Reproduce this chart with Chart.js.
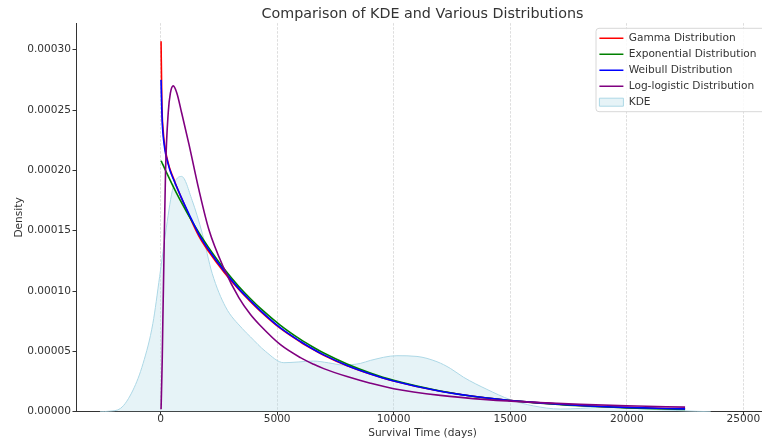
<!DOCTYPE html>
<html>
<head>
<meta charset="utf-8">
<script src="https://cdn.jsdelivr.net/npm/chart.js"></script>
<style>
html, body { margin: 0; padding: 0; background: #ffffff; overflow: hidden; width: 762px; height: 443px; }
#wrap { width: 769px; height: 443px; position: relative; }
</style>
</head>
<body>
<div id="wrap"><canvas id="c" width="769" height="443"></canvas></div>
<script>
// ---- data ----
const seriesLabels = ['Gamma Distribution', 'Exponential Distribution', 'Weibull Distribution', 'Log-logistic Distribution', 'KDE'];

const distX = [21, 50, 71, 100, 143, 214, 329, 420, 543, 700, 900, 1214, 1643, 2071, 2714, 3357, 3857, 4286, 5143, 6000, 6570, 7000, 8000, 9000, 10000, 12000, 14000, 16000, 18000, 20000, 22500];

const gammaY = [0.000307, 0.000262, 0.000245, 0.000236, 0.000226, 0.000216, 0.000206, 0.000200, 0.000194, 0.000186, 0.000177, 0.000163, 0.0001455, 0.0001325, 0.0001158, 0.0001012, 0.0000912, 0.0000832, 0.0000690, 0.0000578, 0.0000513, 0.0000468, 0.0000381, 0.0000312, 0.0000254, 0.0000169, 0.0000114, 0.0000077, 0.0000052, 0.0000036, 0.0000023];

const exponY = [0.000208, 0.0002068, 0.0002059, 0.0002047, 0.0002029, 0.0001999, 0.0001952, 0.0001915, 0.0001866, 0.0001806, 0.0001733, 0.0001623, 0.0001484, 0.0001358, 0.0001187, 0.0001038, 0.0000936, 0.0000856, 0.0000716, 0.0000599, 0.0000532, 0.0000486, 0.0000395, 0.0000321, 0.0000260, 0.0000172, 0.0000113, 0.0000075, 0.0000049, 0.0000032, 0.0000019];

const weibullY = [0.000275, 0.000252, 0.000240, 0.000231, 0.000223, 0.000214, 0.000205, 0.000199, 0.000193, 0.000186, 0.000177, 0.000164, 0.000147, 0.000134, 0.000117, 0.000102, 0.0000920, 0.0000838, 0.0000695, 0.0000582, 0.0000516, 0.0000471, 0.0000383, 0.0000313, 0.0000255, 0.0000170, 0.0000114, 0.0000077, 0.0000052, 0.0000036, 0.0000023];

const loglogY = [0.000002, 0.000025, 0.000043, 0.000078, 0.000126, 0.000200, 0.000248, 0.000264, 0.000270, 0.000264, 0.000248, 0.000222, 0.000184, 0.000151, 0.000119, 0.0000945, 0.0000805, 0.0000712, 0.0000555, 0.0000448, 0.0000393, 0.0000357, 0.0000291, 0.0000236, 0.000019, 0.0000135, 0.0000100, 0.0000077, 0.0000061, 0.0000049, 0.0000038];

const kdeX = [-2600, -2200, -1715, -1180, -750, -330, -40, 250, 540, 900, 1357, 1785, 2214, 2786, 3500, 3857, 4500, 5290, 5900, 6560, 7200, 7840, 8570, 9000, 10140, 11000, 11860, 12430, 13000, 14000, 15000, 16000, 17140, 18000, 18860, 20000, 21500, 23000, 23600];
const kdeY = [0, 0.0000004, 0.0000028, 0.000018, 0.00004, 0.0000732, 0.000112, 0.000153, 0.000186, 0.000195, 0.000175, 0.000148, 0.0001146, 0.0000869, 0.000069, 0.000062, 0.000050, 0.0000406, 0.0000412, 0.000042, 0.0000405, 0.0000387, 0.000040, 0.0000425, 0.0000464, 0.0000458, 0.0000414, 0.0000359, 0.0000285, 0.0000185, 0.0000100, 0.0000048, 0.0000022, 0.0000027, 0.0000036, 0.000003, 0.0000015, 0.0000003, 0];

const xTickValues = [0, 5000, 10000, 15000, 20000, 25000];
const yTickValues = [0, 0.00005, 0.0001, 0.00015, 0.0002, 0.00025, 0.0003];

// ---- styling ----
const FONT = "'DejaVu Sans', sans-serif";
const TXT = '#333333';
const FS = 10.6;

function pts(xs, ys) { return xs.map((x, i) => ({ x: x, y: ys[i] })); }

function lineDs(label, xs, ys, color, order) {
  return {
    label: label, data: pts(xs, ys), borderColor: color, backgroundColor: color,
    borderWidth: 1.6, pointRadius: 0, fill: false, cubicInterpolationMode: 'monotone', order: order
  };
}

const datasets = [
  lineDs(seriesLabels[0], distX, gammaY, '#ff0000', 4),
  lineDs(seriesLabels[1], distX, exponY, '#008000', 3),
  lineDs(seriesLabels[2], distX, weibullY, '#0000ff', 2),
  lineDs(seriesLabels[3], distX, loglogY, '#800080', 1),
  {
    label: seriesLabels[4], data: pts(kdeX, kdeY), borderColor: '#add8e6',
    backgroundColor: 'rgba(173,216,230,0.3)', borderWidth: 1, pointRadius: 0,
    fill: 'origin', cubicInterpolationMode: 'monotone', order: 5, isKde: true
  }
];

function drawFrame(chart) {
  const ctx = chart.ctx;
  const x = 596, y = 28.3, w = 171, h = 83.4, r = 3;
  ctx.save();
  ctx.beginPath();
  ctx.moveTo(x + r, y);
  ctx.lineTo(x + w - r, y); ctx.arcTo(x + w, y, x + w, y + r, r);
  ctx.lineTo(x + w, y + h - r); ctx.arcTo(x + w, y + h, x + w - r, y + h, r);
  ctx.lineTo(x + r, y + h); ctx.arcTo(x, y + h, x, y + h - r, r);
  ctx.lineTo(x, y + r); ctx.arcTo(x, y, x + r, y, r);
  ctx.closePath();
  ctx.fillStyle = 'rgba(255,255,255,0.85)';
  ctx.fill();
  ctx.lineWidth = 1;
  ctx.strokeStyle = '#d8d8d8';
  ctx.stroke();
  ctx.restore();
}

const legendPlacer = {
  id: 'legendPlacer',
  beforeLayout(chart) {
    const lg = chart.legend;
    if (lg && !lg._patched) {
      lg._patched = true;
      lg._layers = () => [{ z: 10, draw: (area) => { drawFrame(chart); lg.draw(area); } }];
    }
  },
  afterLayout(chart) {
    const lg = chart.legend;
    const ca = chart.chartArea;
    if (!lg) return;
    lg.left = 594;
    lg.right = lg.left + lg.width;
    lg.top = 27.5;
    lg.bottom = ca.bottom;
    lg.height = lg.bottom - lg.top;
  }
};

new Chart(document.getElementById('c'), {
  type: 'line',
  data: { datasets: datasets },
  plugins: [legendPlacer],
  options: {
    responsive: false,
    animation: false,
    events: [],
    devicePixelRatio: 1,
    layout: { autoPadding: false, padding: 0 },
    plugins: {
      tooltip: { enabled: false },
      title: {
        display: true, text: 'Comparison of KDE and Various Distributions',
        fullSize: false, color: TXT,
        font: { family: FONT, size: 14.3, weight: 'normal' },
        padding: { top: 6, bottom: 0 }
      },
      legend: {
        display: true, position: 'chartArea', align: 'start',
        labels: {
          usePointStyle: true, pointStyleWidth: 24, boxHeight: 8, padding: 5.4,
          color: TXT, font: { family: FONT, size: FS },
          generateLabels(chart) {
            return chart.data.datasets.map((ds, i) => ({
              text: ds.label, datasetIndex: i, hidden: false,
              fillStyle: ds.backgroundColor, strokeStyle: ds.borderColor,
              lineWidth: ds.isKde ? 1 : 1.6,
              pointStyle: ds.isKde ? 'rect' : 'line', fontColor: TXT
            }));
          }
        }
      }
    },
    scales: {
      x: {
        type: 'linear', min: -3628, max: 26100,
        afterBuildTicks: (s) => { s.ticks = xTickValues.map(v => ({ value: v })); },
        afterFit: (s) => { s.height = 31.3; },
        ticks: {
          color: TXT, font: { family: FONT, size: FS, lineHeight: 1 }, padding: -1.3,
          maxRotation: 0, autoSkip: false, callback: (v) => String(v)
        },
        grid: {
          display: true, drawOnChartArea: true, drawTicks: true, tickLength: 3.5,
          color: '#d4d4d4', lineWidth: 0.8, tickColor: '#333333', tickWidth: 1
        },
        border: { display: true, color: '#333333', width: 1, dash: [2.5, 1.5] },
        title: {
          display: true, text: 'Survival Time (days)', color: TXT,
          font: { family: FONT, size: FS }, padding: { top: 0, bottom: 3.3 }
        }
      },
      y: {
        type: 'linear', min: 0, max: 0.000322,
        afterBuildTicks: (s) => { s.ticks = yTickValues.map(v => ({ value: v })); },
        afterFit: (s) => { s.width = 76; },
        ticks: {
          color: TXT, font: { family: FONT, size: FS }, padding: 1.5,
          autoSkip: false, callback: (v) => Number(v).toFixed(5)
        },
        grid: {
          display: true, drawOnChartArea: false, drawTicks: true, tickLength: 3.5,
          tickColor: '#333333', tickWidth: 1
        },
        border: { display: true, color: '#333333', width: 1 },
        title: {
          display: true, text: 'Density', color: TXT,
          font: { family: FONT, size: FS }, padding: { top: 13.1, bottom: 0 }
        }
      }
    }
  }
});
</script>
</body>
</html>
